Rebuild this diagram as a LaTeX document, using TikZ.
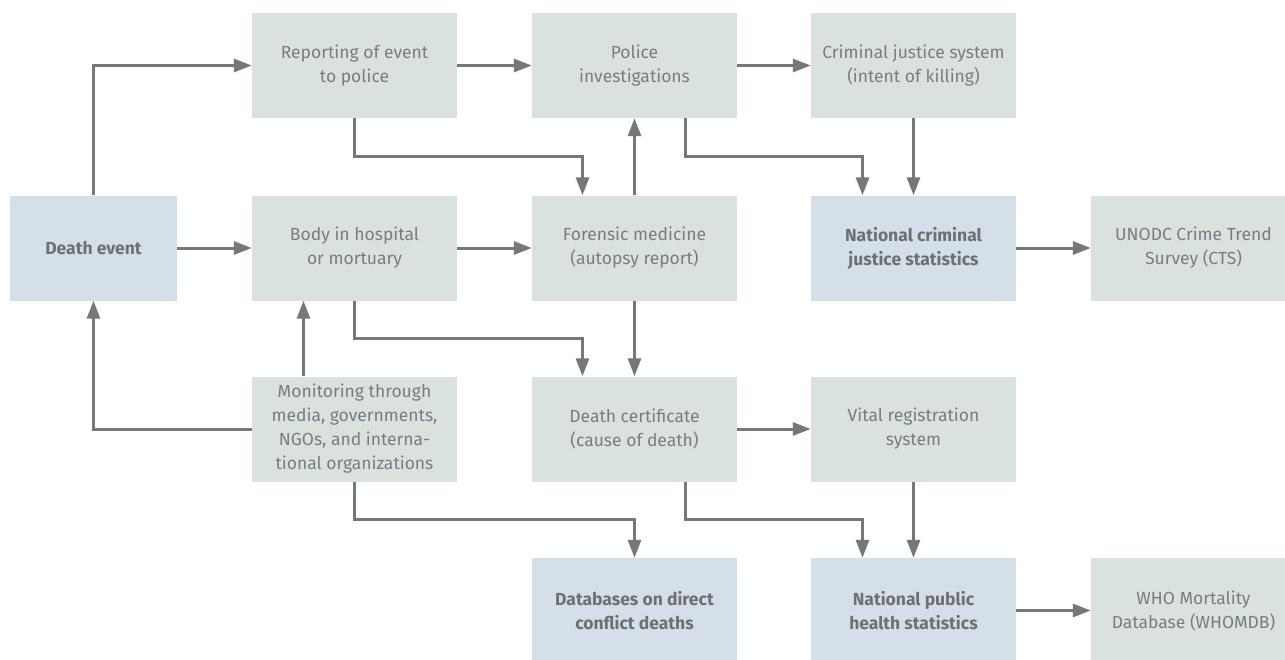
\documentclass[tikz,border=0pt]{standalone}
\usepackage{fontspec}
\setmainfont{Fira Sans}
\usetikzlibrary{arrows.meta,calc}
\definecolor{gfill}{HTML}{DAE2DD}
\definecolor{bfill}{HTML}{D5DFE7}
\definecolor{txt}{HTML}{7A7C80}
\definecolor{btxt}{HTML}{6E7074}
\definecolor{ln}{HTML}{76777B}
\tikzset{
  x=1pt,y=1pt,
  box/.style={minimum width=205pt,minimum height=105pt,inner sep=0pt,align=center,
    font=\fontsize{17.5}{24}\selectfont},
  gbox/.style={box,fill=gfill,text=txt},
  bbox/.style={box,fill=bfill,text=btxt,font=\fontsize{17.5}{24}\selectfont\bfseries},
  arr/.style={draw=ln,line width=3pt,-{Triangle[length=18pt,width=13pt]}},
}
\begin{document}
\begin{tikzpicture}
\clip (0,0) rectangle (1285,-659);
\node[bbox,minimum width=167pt] (death) at (93.5,-248) {Death event};
\node[gbox] (report) at (354.5,-65.5) {Reporting of event\\to police};
\node[gbox] (body) at (354.5,-248) {Body in hospital\\or mortuary};
\node[gbox] (mon) at (354.5,-429) {Monitoring through\\media, governments,\\NGOs, and interna-\\tional organizations};
\node[gbox] (police) at (634.5,-65.5) {Police\\investigations};
\node[gbox] (forensic) at (634.5,-248) {Forensic medicine\\(autopsy report)};
\node[gbox] (cert) at (634.5,-429) {Death certificate\\(cause of death)};
\node[bbox] (dbase) at (634.5,-610.5) {Databases on direct\\conflict deaths};
\node[gbox] (cjs) at (913.5,-65.5) {Criminal justice system\\(intent of killing)};
\node[bbox] (ncjs) at (913.5,-248) {National criminal\\justice statistics};
\node[gbox] (vital) at (913.5,-429) {Vital registration\\system};
\node[bbox] (nphs) at (913.5,-610.5) {National public\\health statistics};
\node[gbox] (cts) at (1193.5,-248) {UNODC Crime Trend\\Survey (CTS)};
\node[gbox] (who) at (1193.5,-610.5) {WHO Mortality\\Database (WHOMDB)};

\draw[arr] (death.north) |- (report.west);
\draw[arr] (death.east) -- (body.west);
\draw[arr] (mon.west) -| (death.south);
\draw[arr] ([xshift=-51pt]mon.north) -- ([xshift=-51pt]body.south);
\draw[arr] (report.east) -- (police.west);
\draw[arr] (police.east) -- (cjs.west);
\draw[arr] (body.east) -- (forensic.west);
\draw[arr] (ncjs.east) -- (cts.west);
\draw[arr] (cert.east) -- (vital.west);
\draw[arr] (nphs.east) -- (who.west);
\draw[arr] (forensic.north) -- (police.south);
\draw[arr] (forensic.south) -- (cert.north);
\draw[arr] (cjs.south) -- (ncjs.north);
\draw[arr] (vital.south) -- (nphs.north);
\draw[arr] (report.south) -- ++(0,-38.5) -| ([xshift=-52pt]forensic.north);
\draw[arr] (body.south) -- ++(0,-37.5) -| ([xshift=-52pt]cert.north);
\draw[arr] ([xshift=51pt]police.south) -- ++(0,-38.5) -| ([xshift=-51pt]ncjs.north);
\draw[arr] ([xshift=51pt]cert.south) -- ++(0,-38) -| ([xshift=-51pt]nphs.north);
\draw[arr] (mon.south) -- ++(0,-38) -| (dbase.north);
\end{tikzpicture}
\end{document}
